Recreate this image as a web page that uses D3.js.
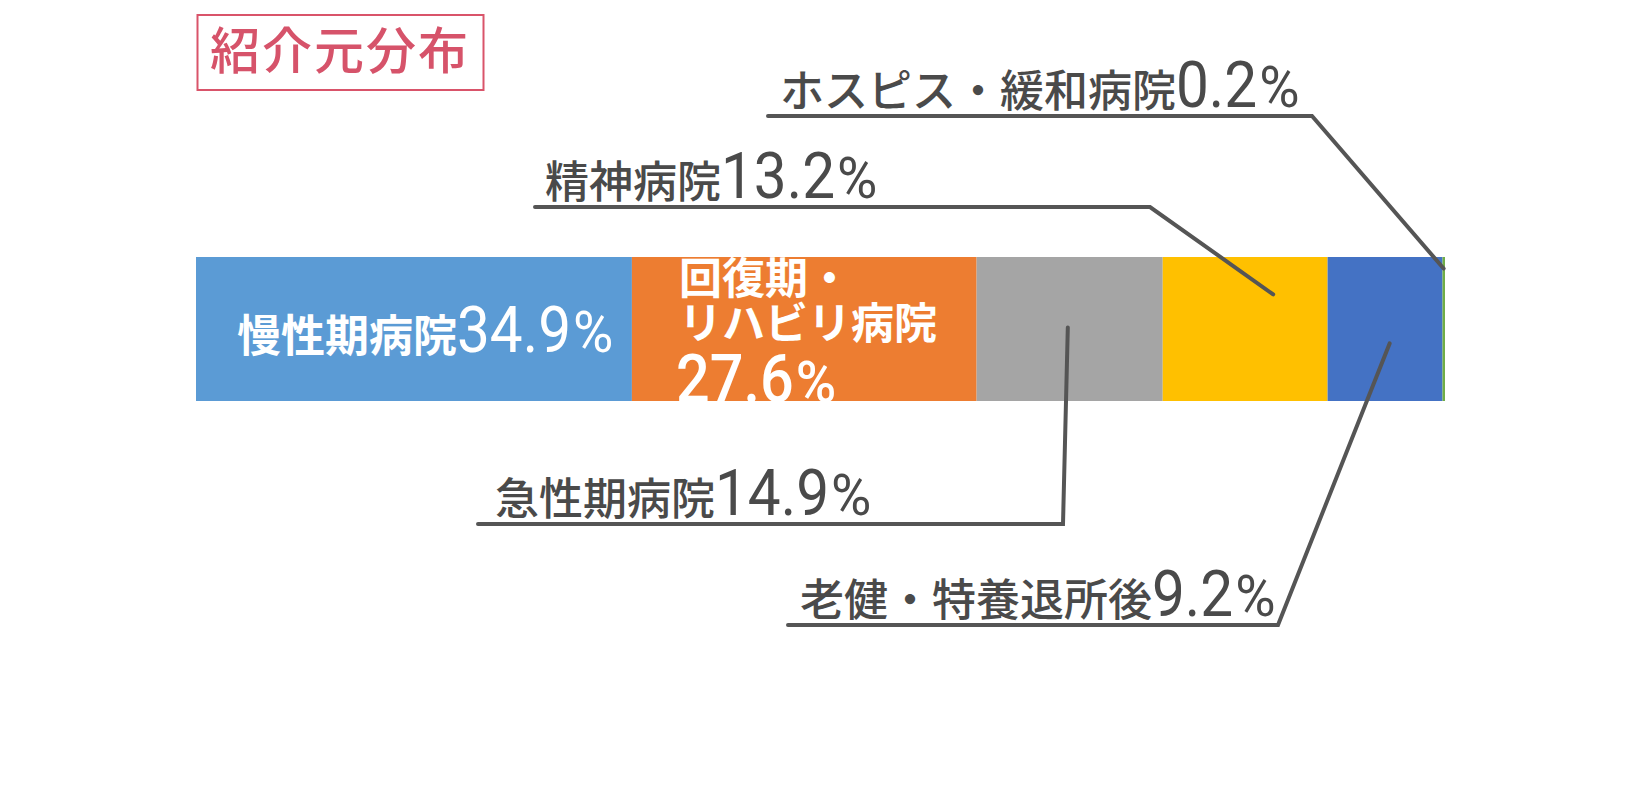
<!DOCTYPE html>
<html>
<head>
<meta charset="utf-8">
<script src="https://cdn.jsdelivr.net/npm/d3@7"></script>
<style>
  body { margin: 0; background: #fff; }
</style>
</head>
<body>
<div id="chart"></div>
<script>
var svgWidth = 1640;
var svgHeight = 800;

// DATA
var categories = ["慢性期病院", "回復期・リハビリ病院", "急性期病院", "精神病院", "老健・特養退所後", "ホスピス・緩和病院"];
var values = [34.9, 27.6, 14.9, 13.2, 9.2, 0.2];
var colors = ["#5B9BD5", "#ED7D31", "#A5A5A5", "#FFC000", "#4472C4", "#70AD47"];
var barName = ["紹介元"];
var title = "紹介元分布";

var jpFont = "'Noto Sans CJK JP', 'Noto Sans CJK SC', sans-serif";
var numFont = "Roboto, 'Liberation Sans', sans-serif";
var textGray = "#4a4a4a";
var lineGray = "#555555";

var svg = d3.select("#chart")
  .append("svg")
  .attr("width", svgWidth)
  .attr("height", svgHeight);

svg.append("rect")
  .attr("width", svgWidth)
  .attr("height", svgHeight)
  .attr("fill", "#fff");

// SCALES
var xScale = d3.scaleLinear()
  .domain([0, d3.sum(values)])
  .range([196, 1445]);

var yScale = d3.scaleBand()
  .domain(barName)
  .range([257, 401]);

var starts = [0].concat(Array.from(d3.cumsum(values))).slice(0, values.length);

var segments = values.map(function(v, i) {
  return { cat: categories[i], value: v, start: starts[i], color: colors[i] };
});

// BAR
svg.append("g").selectAll("rect")
  .data(segments)
  .enter()
  .append("rect")
  .attr("x", d => xScale(d.start))
  .attr("y", yScale(barName[0]))
  .attr("width", d => xScale(d.start + d.value) - xScale(d.start))
  .attr("height", yScale.bandwidth())
  .attr("fill", d => d.color);

svg.append("clipPath")
  .attr("id", "barClip")
  .append("rect")
  .attr("x", xScale(0))
  .attr("y", yScale(barName[0]))
  .attr("width", xScale(d3.sum(values)) - xScale(0))
  .attr("height", yScale.bandwidth());

// lay out a label out of pieces of different size
function richLabel(g, x, baseline, parts) {
  var cx = x;
  parts.forEach(function(p) {
    var t = g.append("text")
      .attr("font-family", p.family)
      .attr("font-size", p.size)
      .attr("font-weight", p.weight || "normal")
      .attr("fill", p.fill)
      .text(p.text);
    var sx = p.sx || 1;
    t.attr("transform", `translate(${cx},${baseline}) scale(${sx},1)`);
    cx += t.node().getComputedTextLength() * sx + (p.gap || 0);
  });
  return cx;
}

function pct(v) { return v.toFixed(1); }

// TITLE
svg.append("rect")
  .attr("x", 197.5)
  .attr("y", 15)
  .attr("width", 286)
  .attr("height", 75)
  .attr("fill", "none")
  .attr("stroke", "#D9546A")
  .attr("stroke-width", 2);

svg.append("text")
  .attr("x", 210)
  .attr("y", 69)
  .attr("font-family", jpFont)
  .attr("font-size", 50)
  .attr("font-weight", 500)
  .attr("letter-spacing", 2)
  .attr("fill", "#D6536A")
  .text(title);

// INSIDE LABELS
var inside = svg.append("g").attr("clip-path", "url(#barClip)");

richLabel(inside, 237, 352, [
  { text: categories[0], family: jpFont, size: 44, weight: "bold", fill: "#fff" },
  { text: pct(values[0]), family: numFont, size: 65, fill: "#fff", sx: 0.9, gap: 2 },
  { text: "%", family: numFont, size: 58, fill: "#fff", sx: 0.95 }
]);

var orangeLines = categories[1].split("・");
var orangeText = inside.append("text")
  .attr("font-family", jpFont)
  .attr("font-size", 43)
  .attr("font-weight", "bold")
  .attr("fill", "#fff");
orangeText.append("tspan")
  .attr("x", 679)
  .attr("y", 294)
  .text(orangeLines[0] + "・");
orangeText.append("tspan")
  .attr("x", 679)
  .attr("y", 339)
  .text(orangeLines[1]);

richLabel(inside, 676, 402, [
  { text: pct(values[1]), family: numFont, size: 66, weight: 500, fill: "#fff", sx: 0.9, gap: 2 },
  { text: "%", family: numFont, size: 58, weight: 500, fill: "#fff", sx: 0.95 }
]);

// CALLOUTS (layout: text start, underline y, underline start, corner x, anchor inside segment)
var callouts = [
  { i: 2, textX: 495, lineY: 524, lineX0: 478, cornerX: 1063, ax: 0.49, ay: 0.49 },
  { i: 3, textX: 545, lineY: 207, lineX0: 535, cornerX: 1150, ax: 0.67, ay: 0.26 },
  { i: 4, textX: 800, lineY: 625, lineX0: 788, cornerX: 1278, ax: 0.54, ay: 0.60 },
  { i: 5, textX: 780, lineY: 116, lineX0: 768, cornerX: 1312, ax: 0.45, ay: 0.08 }
];

var outside = svg.append("g");

callouts.forEach(function(c) {
  var s = segments[c.i];
  var x0 = xScale(s.start);
  var x1 = xScale(s.start + s.value);
  var axPx = x0 + (x1 - x0) * c.ax;
  var ayPx = yScale(barName[0]) + yScale.bandwidth() * c.ay;

  outside.append("path")
    .attr("d", d3.line()([[c.lineX0, c.lineY], [c.cornerX, c.lineY], [axPx, ayPx]]))
    .attr("fill", "none")
    .attr("stroke", lineGray)
    .attr("stroke-width", 4)
    .attr("stroke-linecap", "round");

  richLabel(outside, c.textX, c.lineY - 9, [
    { text: s.cat, family: jpFont, size: 44, weight: 500, fill: textGray },
    { text: pct(s.value), family: numFont, size: 65, fill: textGray, sx: 0.9, gap: 2 },
    { text: "%", family: numFont, size: 58, fill: textGray, sx: 0.95 }
  ]);
});
</script>
</body>
</html>
